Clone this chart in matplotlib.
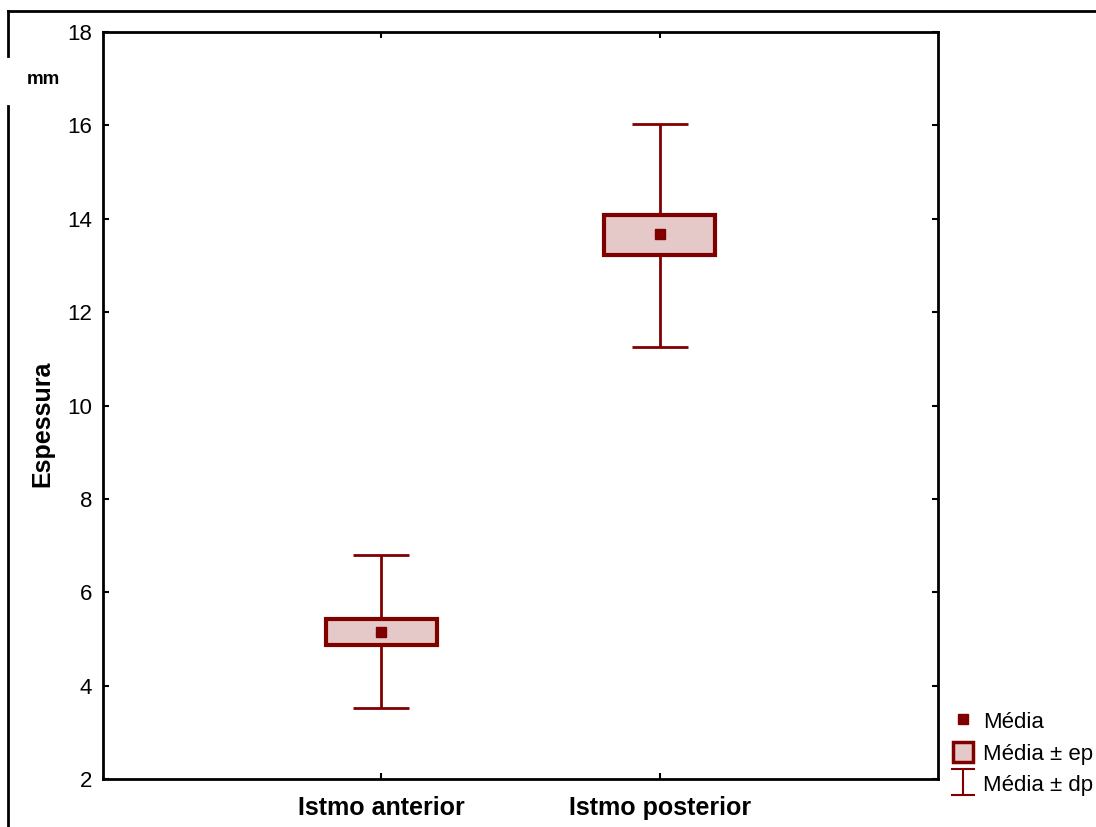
import matplotlib
matplotlib.use("Agg")
import matplotlib.pyplot as plt
from matplotlib.lines import Line2D
from matplotlib.patches import Patch
from matplotlib.path import Path

plt.rcParams['font.family'] = ['Liberation Sans', 'DejaVu Sans']

# ----------------------------
# Data
# ----------------------------
groups = ["Istmo anterior", "Istmo posterior"]
positions = [1, 2]
means = [5.15, 13.67]
ep_low = [4.87, 13.22]
ep_high = [5.43, 14.08]
dp_low = [3.52, 11.25]
dp_high = [6.80, 16.03]

dark_red = "#800000"
box_fill = "#e5c8c8"

fig = plt.figure(figsize=(10.96, 8.27), dpi=100)
ax = fig.add_axes([103 / 1096, 1 - 779 / 827, (938 - 103) / 1096, (779 - 32) / 827])

# whiskers (mean ± dp)
yerr = [[m - lo for m, lo in zip(means, dp_low)],
        [hi - m for m, hi in zip(means, dp_high)]]
ax.errorbar(positions, means, yerr=yerr, fmt="none", ecolor=dark_red,
            elinewidth=2, capsize=20, capthick=2, zorder=1)

# boxes (mean ± ep)
heights = [hi - lo for lo, hi in zip(ep_low, ep_high)]
ax.bar(positions, heights, bottom=ep_low, width=0.4, facecolor=box_fill,
       edgecolor=dark_red, linewidth=3, zorder=2)

# means
ax.plot(positions, means, "s", color=dark_red, markersize=7.5, zorder=3)

ax.set_xlim(0, 3)
ax.set_ylim(2, 18)
ax.set_yticks(range(2, 19, 2))
ax.set_xticks(positions)
ax.set_xticklabels(groups, fontsize=18, fontweight="bold")
ax.tick_params(axis="y", labelsize=16, pad=8)
ax.tick_params(axis="x", pad=12)
ax.tick_params(direction="in", length=4, width=1.5, top=True, right=True)
for sp in ax.spines.values():
    sp.set_linewidth(2)

fig.text(42 / 1096, 1 - 424 / 827, "Espessura", rotation=90, fontsize=18,
         fontweight="bold", ha="center", va="center")
fig.text(43 / 1096, 1 - 80 / 827, "mm", fontsize=13.5, fontweight="bold",
         ha="center", va="center")

# outer frame
fig.add_artist(Line2D([8 / 1096, 1], [1 - 11 / 827] * 2, transform=fig.transFigure,
                      color="black", lw=2))
fig.add_artist(Line2D([8 / 1096] * 2, [1 - 11 / 827, 1 - 56 / 827],
                      transform=fig.transFigure, color="black", lw=2))
fig.add_artist(Line2D([8 / 1096] * 2, [1 - 106 / 827, 0], transform=fig.transFigure,
                      color="black", lw=2))

# legend
i_shape = Path([(-0.45, 0.5), (0.45, 0.5), (0, 0.5), (0, -0.5), (-0.45, -0.5), (0.45, -0.5)],
               [Path.MOVETO, Path.LINETO, Path.MOVETO, Path.LINETO, Path.MOVETO, Path.LINETO])
h_mean = Line2D([], [], marker="s", color=dark_red, linestyle="none", markersize=7.5)
h_ep = Patch(facecolor=box_fill, edgecolor=dark_red, linewidth=2.5)
h_dp = Line2D([], [], marker=i_shape, color=dark_red, markerfacecolor="none",
              markeredgewidth=1.5, linestyle="none", markersize=19)
fig.legend([h_mean, h_ep, h_dp], ["Média", "Média ± ep", "Média ± dp"],
           loc="lower left", bbox_to_anchor=(953 / 1096, 1 - 796 / 827),
           frameon=False, fontsize=16, handlelength=0.9, handleheight=1.0,
           handletextpad=0.45, labelspacing=0.4, borderaxespad=0, borderpad=0)

fig.savefig("out.png", dpi=100)
